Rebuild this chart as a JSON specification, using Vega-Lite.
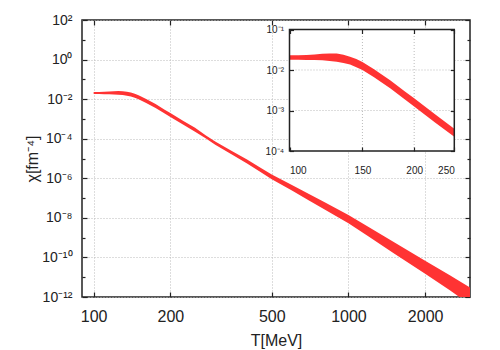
{
  "$schema": "https://vega.github.io/schema/vega-lite/v6.json",
  "width": 388,
  "height": 277,
  "autosize": "none",
  "padding": {"left": 82, "top": 20, "right": 30, "bottom": 53},
  "background": "white",
  "config": {
    "view": {"stroke": "#222", "strokeWidth": 1.5},
    "font": "Liberation Sans",
    "axis": {"labelFont": "Liberation Sans", "titleFont": "Liberation Sans", "labelColor": "#222", "titleColor": "#222", "tickColor": "#222", "titleFontWeight": "normal", "domain": false}
  },
  "datasets": {
    "band": [
      {"T": 100, "lo": 0.01799, "hi": 0.02317},
      {"T": 105, "lo": 0.01799, "hi": 0.02317},
      {"T": 110, "lo": 0.01778, "hi": 0.02344},
      {"T": 115, "lo": 0.01758, "hi": 0.02399},
      {"T": 120, "lo": 0.01738, "hi": 0.02512},
      {"T": 125, "lo": 0.01679, "hi": 0.02570},
      {"T": 130, "lo": 0.01603, "hi": 0.02541},
      {"T": 135, "lo": 0.01496, "hi": 0.02371},
      {"T": 140, "lo": 0.01365, "hi": 0.02138},
      {"T": 145, "lo": 0.01175, "hi": 0.01862},
      {"T": 150, "lo": 0.01, "hi": 0.01585},
      {"T": 160, "lo": 0.006607, "hi": 0.01047},
      {"T": 175, "lo": 0.003548, "hi": 0.005623},
      {"T": 190, "lo": 0.001862, "hi": 0.002951},
      {"T": 200, "lo": 0.001259, "hi": 0.001995},
      {"T": 225, "lo": 0.0005012, "hi": 0.0007943},
      {"T": 250, "lo": 0.0002239, "hi": 0.0003548},
      {"T": 275, "lo": 0.0001047, "hi": 0.0001514},
      {"T": 300, "lo": 5.012e-5, "hi": 7.244e-5},
      {"T": 350, "lo": 1.549e-5, "hi": 2.344e-5},
      {"T": 400, "lo": 5.623e-6, "hi": 8.913e-6},
      {"T": 450, "lo": 2.138e-6, "hi": 3.548e-6},
      {"T": 500, "lo": 8.913e-7, "hi": 1.549e-6},
      {"T": 600, "lo": 2.399e-7, "hi": 4.571e-7},
      {"T": 700, "lo": 7.586e-8, "hi": 1.585e-7},
      {"T": 800, "lo": 2.818e-8, "hi": 6.457e-8},
      {"T": 1000, "lo": 5.370e-9, "hi": 1.413e-8},
      {"T": 1200, "lo": 1.148e-9, "hi": 3.467e-9},
      {"T": 1500, "lo": 1.698e-10, "hi": 6.166e-10},
      {"T": 2000, "lo": 1.479e-11, "hi": 6.761e-11},
      {"T": 2500, "lo": 2.188e-12, "hi": 1.259e-11},
      {"T": 3000, "lo": 4.169e-13, "hi": 3.020e-12}
    ]
  },
  "layer": [
    {
      "layer": [
        {
          "data": {"name": "band"},
          "mark": {"type": "area", "color": "#ff3333", "clip": true},
          "encoding": {
            "x": {"field": "T", "type": "quantitative",
              "scale": {"type": "log", "domain": [90, 3000], "nice": false},
              "axis": {"orient": "bottom", "values": [100, 200, 500, 1000, 2000], "format": "d", "tickSize": -5, "tickWidth": 1.2, "labelFontSize": 16, "labelPadding": 16, "grid": true, "gridColor": "#bbb", "gridDash": [1, 2], "title": "T[MeV]", "titleFontSize": 16, "titlePadding": 8, "zindex": 0}},
            "y": {"field": "hi", "type": "quantitative",
              "scale": {"type": "log", "domain": [1e-12, 100], "nice": false},
              "axis": {"orient": "left", "values": [1e-12, 1e-11, 1e-10, 1e-9, 1e-8, 1e-7, 1e-6, 1e-5, 1e-4, 1e-3, 1e-2, 1e-1, 1, 10, 100],
                "labelExpr": "['10⁻¹²','','10⁻¹⁰','','10⁻⁸','','10⁻⁶','','10⁻⁴','','10⁻²','','10⁰','','10²'][round(log(datum.value)/LN10)+12]",
                "tickSize": {"condition": {"test": "round(log(datum.value)/LN10) % 2 != 0", "value": -3}, "value": -5},
                "gridOpacity": {"condition": {"test": "round(log(datum.value)/LN10) % 2 != 0", "value": 0}, "value": 1},
                "tickWidth": 1.2, "labelFontSize": 14, "labelPadding": 15, "grid": true, "gridColor": "#bbb", "gridDash": [1, 2], "title": "χ[fm⁻⁴]", "titleFontSize": 16, "titlePadding": 1, "zindex": 0}},
            "y2": {"field": "lo"}
          }
        },
        {
          "data": {"name": "band"},
          "mark": {"type": "point", "opacity": 0},
          "encoding": {
            "x": {"field": "T", "type": "quantitative",
              "axis": {"orient": "top", "values": [100, 200, 500, 1000, 2000], "labels": false, "tickSize": -5, "tickWidth": 1.2, "grid": false, "title": null, "zindex": 0}},
            "y": {"field": "hi", "type": "quantitative",
              "axis": {"orient": "right", "values": [1e-12, 1e-11, 1e-10, 1e-9, 1e-8, 1e-7, 1e-6, 1e-5, 1e-4, 1e-3, 1e-2, 1e-1, 1, 10, 100], "labels": false,
                "tickSize": {"condition": {"test": "round(log(datum.value)/LN10) % 2 != 0", "value": -3}, "value": -5},
                "tickWidth": 1.2, "grid": false, "title": null, "zindex": 0}}
          }
        }
      ],
      "resolve": {"axis": {"x": "independent", "y": "independent"}}
    },
    {
      "layer": [
        {
          "data": {"values": [{}]},
          "mark": {"type": "rect", "fill": "white"},
          "encoding": {
            "x": {"datum": 100, "type": "quantitative",
              "scale": {"type": "log", "domain": [100, 250], "range": [207.5, 372.3], "nice": false},
              "axis": {"orient": "bottom", "offset": -146, "values": [100, 150, 200, 250], "format": "d", "tickSize": -4, "tickWidth": 1.2, "labelFontSize": 10, "labelPadding": 18, "grid": false, "title": null, "zindex": 1}},
            "x2": {"datum": 250},
            "y": {"datum": 0.0001, "type": "quantitative",
              "scale": {"type": "log", "domain": [0.0001, 0.1], "range": [131, 9.5], "nice": false},
              "axis": {"orient": "left", "offset": -207.5, "values": [0.0001, 0.001, 0.01, 0.1],
                "labelExpr": "['10⁻⁴','10⁻³','10⁻²','10⁻¹'][round(log(datum.value)/LN10)+4]",
                "tickSize": -4, "tickWidth": 1.2, "labelFontSize": 10, "labelPadding": 10, "grid": false, "title": null, "zindex": 1}},
            "y2": {"datum": 0.1}
          }
        },
        {
          "data": {"values": [{}]},
          "mark": {"type": "rule", "color": "#bbb", "strokeDash": [1, 2]},
          "encoding": {"x": {"datum": 150, "type": "quantitative", "axis": null}, "y": {"datum": 0.0001, "type": "quantitative", "axis": null}, "y2": {"datum": 0.1}}
        },
        {
          "data": {"values": [{}]},
          "mark": {"type": "rule", "color": "#bbb", "strokeDash": [1, 2]},
          "encoding": {"x": {"datum": 200, "type": "quantitative", "axis": null}, "y": {"datum": 0.0001, "type": "quantitative", "axis": null}, "y2": {"datum": 0.1}}
        },
        {
          "data": {"values": [{}]},
          "mark": {"type": "rule", "color": "#bbb", "strokeDash": [1, 2]},
          "encoding": {"y": {"datum": 0.01, "type": "quantitative", "axis": null}, "x": {"datum": 100, "type": "quantitative", "axis": null}, "x2": {"datum": 250}}
        },
        {
          "data": {"values": [{}]},
          "mark": {"type": "rule", "color": "#bbb", "strokeDash": [1, 2]},
          "encoding": {"y": {"datum": 0.001, "type": "quantitative", "axis": null}, "x": {"datum": 100, "type": "quantitative", "axis": null}, "x2": {"datum": 250}}
        },
        {
          "data": {"name": "band"},
          "transform": [{"filter": "datum.T <= 250"}],
          "mark": {"type": "area", "color": "#ff3333"},
          "encoding": {
            "x": {"field": "T", "type": "quantitative", "axis": null},
            "y": {"field": "hi", "type": "quantitative", "axis": null},
            "y2": {"field": "lo"}
          }
        },
        {
          "data": {"values": [{}]},
          "mark": {"type": "rect", "fill": null, "fillOpacity": 0, "stroke": "#222", "strokeWidth": 1.5},
          "encoding": {
            "x": {"datum": 100, "type": "quantitative", "axis": null},
            "x2": {"datum": 250},
            "y": {"datum": 0.0001, "type": "quantitative", "axis": null},
            "y2": {"datum": 0.1}
          }
        },
        {
          "data": {"values": [{}]},
          "mark": {"type": "point", "opacity": 0},
          "encoding": {
            "x": {"datum": 100, "type": "quantitative",
              "axis": {"orient": "top", "offset": -9.5, "values": [100, 150, 200, 250], "labels": false, "tickSize": -4, "tickWidth": 1.2, "grid": false, "title": null, "zindex": 1}},
            "y": {"datum": 0.0001, "type": "quantitative",
              "axis": {"orient": "right", "offset": -15.7, "values": [0.0001, 0.001, 0.01, 0.1], "labels": false, "tickSize": -4, "tickWidth": 1.2, "grid": false, "title": null, "zindex": 1}}
          }
        }
      ],
      "resolve": {"axis": {"x": "independent", "y": "independent"}}
    }
  ],
  "resolve": {"scale": {"x": "independent", "y": "independent"}}
}
